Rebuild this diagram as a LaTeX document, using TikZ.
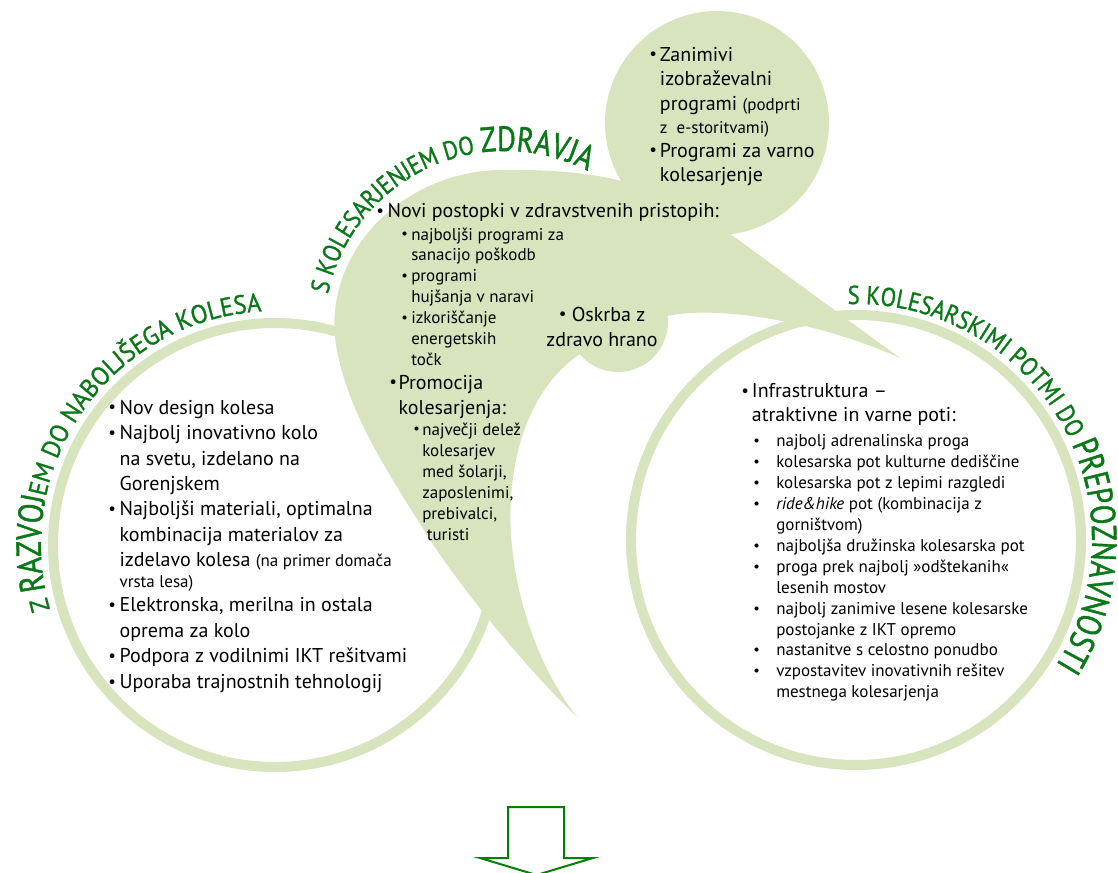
\documentclass[tikz,border=0pt]{standalone}
\usepackage{fontspec}
\setmainfont{PT Sans}
\newfontfamily\ttlfont[FakeStretch=0.87,FakeBold=1]{PT Sans}
\newfontfamily\ttlleft[FakeStretch=0.94,FakeBold=1]{PT Sans}
\newfontfamily\ttlbig[FakeStretch=0.82,FakeBold=1.2]{PT Sans}
\usetikzlibrary{decorations.text}
\definecolor{lg}{RGB}{215,228,189}
\definecolor{tg}{RGB}{10,120,25}
\definecolor{ag}{RGB}{0,128,0}
\newcommand\bul{\raisebox{0.06em}{\scalebox{0.85}{\textbullet}}}
\newcommand\mb[1][8.5pt]{\makebox[#1][l]{\bul}}
\newcommand\mi[1][8.5pt]{\hspace*{#1}}
\newcommand\sm{\fontsize{12.75pt}{15.7pt}\selectfont}
\newcommand\tsm{\ttlfont\fontsize{19.5pt}{20pt}\selectfont}
\newcommand\tsl{\ttlleft\fontsize{19.5pt}{20pt}\selectfont}
\newcommand\tbg{\ttlbig\fontsize{26.25pt}{28pt}\selectfont}
\begin{document}
\begin{tikzpicture}[x=0.75pt,y=-0.75pt,
  ring/.style={draw=lg,line width=7.5pt},
  blob/.style={fill=lg},
  mtxt/.style={inner sep=0pt,align=left,font=\fontsize{15pt}{19.1pt}\selectfont},
  stxt/.style={inner sep=0pt,align=left,font=\fontsize{12.75pt}{15.7pt}\selectfont},
  arrowout/.style={draw=ag,line width=1.5pt,fill=white,line join=miter}]
\useasboundingbox (0,0) rectangle (1118,873);

% rings
\draw[ring] (275,545) circle (222);
\draw[ring] (856,540) circle (225);

% central body with tails and lobe
\fill[blob] (577,717)
  .. controls (530,672) and (470,600) .. (430,540)
  .. controls (390,475) and (348,415) .. (336,345)
  .. controls (322,255) and (400,172) .. (500,170)
  .. controls (560,169) and (600,175) .. (625,182)
  -- (729,233)
  -- (900,358)
  .. controls (820,322) and (720,305) .. (667.6,315.9)
  arc[start angle=-7,end angle=140,radius=50]
  .. controls (520,395) and (505,480) .. (512,547)
  .. controls (518,605) and (540,670) .. (577,717) -- cycle;
\fill[blob] (717,123) circle (112);

% arrow
\draw[arrowout] (508,807) -- (564,807) -- (564,858) -- (593,858) -- (536.5,875)
  -- (480,858) -- (508,858) -- cycle;

% titles
\path[decorate,decoration={text along path,text color=tg,text align=left,
  text={|\tsl|Z |\tbg|RAZVOJ|\tsl|EM DO NABOLJŠEGA KOLESA}}]
  (275,545) ++(164:234) arc[start angle=164,end angle=300,radius=234];
\path[decorate,decoration={text along path,text color=tg,text align=left,
  text={|\tsm|S KOLESARJENJEM DO |\tbg|ZDRAVJA}}]
  (505,332) ++(192:181) arc[start angle=192,end angle=320,radius=181];
\path[decorate,decoration={text along path,text color=tg,text align=left,
  text={|\tsm|S KOLESARSKIMI POTMI DO |\tbg|PREPOZNAVNOSTI}}]
  (856,540) ++(268:236) arc[start angle=268,end angle=420,radius=236];

% left circle text
\node[mtxt,anchor=north west] (lt) at (108,399.6) {\mb Nov design kolesa\\
\mb Najbolj inovativno kolo\\
\mi na svetu, izdelano na\\
\mi Gorenjskem\\
\mb Najboljši materiali, optimalna\\
\mi kombinacija materialov za\\
\mi izdelavo kolesa {\sm(na primer domača}\\[-3.3pt]
\mi{\sm vrsta lesa)}\\[-1.1pt]
\mb Elektronska, merilna in ostala\\
\mi oprema za kolo\\
\mb Podpora z vodilnimi IKT rešitvami\\
\mb Uporaba trajnostnih tehnologij};

% central texts
\node[mtxt,anchor=base west] (c1) at (376,218) {\mb Novi postopki v zdravstvenih pristopih:};
\node[stxt,anchor=north west] (c2) at (401,227.3) {\mb[7.5pt]najboljši programi za\\
\mi[7.5pt]sanacijo poškodb\\
\mb[7.5pt]programi\\
\mi[7.5pt]hujšanja v naravi\\
\mb[7.5pt]izkoriščanje\\
\mi[7.5pt]energetskih\\
\mi[7.5pt]točk};
\node[mtxt,anchor=north west] (c3) at (389,374.6) {\mb[7pt]Promocija\\
\mi[7pt]kolesarjenja:};
\node[stxt,anchor=north west,font=\fontsize{12.75pt}{15.75pt}\selectfont] (c4) at (413,422.3) {\mb[6.75pt]največji delež\\
\mi[6.75pt]kolesarjev\\
\mi[6.75pt]med šolarji,\\
\mi[6.75pt]zaposlenimi,\\
\mi[6.75pt]prebivalci,\\
\mi[6.75pt]\ turisti};
\node[mtxt,anchor=north,align=center,font=\fontsize{15pt}{18.75pt}\selectfont] (ok) at (602,306.6) {\bul\ Oskrba z\\ zdravo hrano};

% top bubble text
\node[mtxt,anchor=north west,font=\fontsize{15pt}{18.4pt}\selectfont] (tb) at (649,46.6) {\mb[8pt]Zanimivi\\
\mi[8pt]izobraževalni\\
\mi[8pt]programi {\sm(podprti}\\[-1.1pt]
\mi[8pt]{\sm z\ \ e-storitvami)}\\[-0.4pt]
\mb[8pt]Programi za varno\\
\mi[8pt]kolesarjenje};

% right circle text
\node[mtxt,anchor=north west,font=\fontsize{15pt}{18pt}\selectfont] (r1) at (741,383.6) {\mb[8pt]Infrastruktura –\\
\mi[8pt]atraktivne in varne poti:};
\node[stxt,anchor=north west] (r2) at (753,434.3) {\mb[17.25pt]najbolj adrenalinska proga\\
\mb[17.25pt]kolesarska pot kulturne dediščine\\
\mb[17.25pt]kolesarska pot z lepimi razgledi\\
\mb[17.25pt]\textit{ride\&hike} pot (kombinacija z\\
\mi[17.25pt]gorništvom)\\
\mb[17.25pt]najboljša družinska kolesarska pot\\
\mb[17.25pt]proga prek najbolj »odštekanih«\\
\mi[17.25pt]lesenih mostov\\
\mb[17.25pt]najbolj zanimive lesene kolesarske\\
\mi[17.25pt]postojanke z IKT opremo\\
\mb[17.25pt]nastanitve s celostno ponudbo\\
\mb[17.25pt]vzpostavitev inovativnih rešitev\\
\mi[17.25pt]mestnega kolesarjenja};
\end{tikzpicture}
\end{document}
